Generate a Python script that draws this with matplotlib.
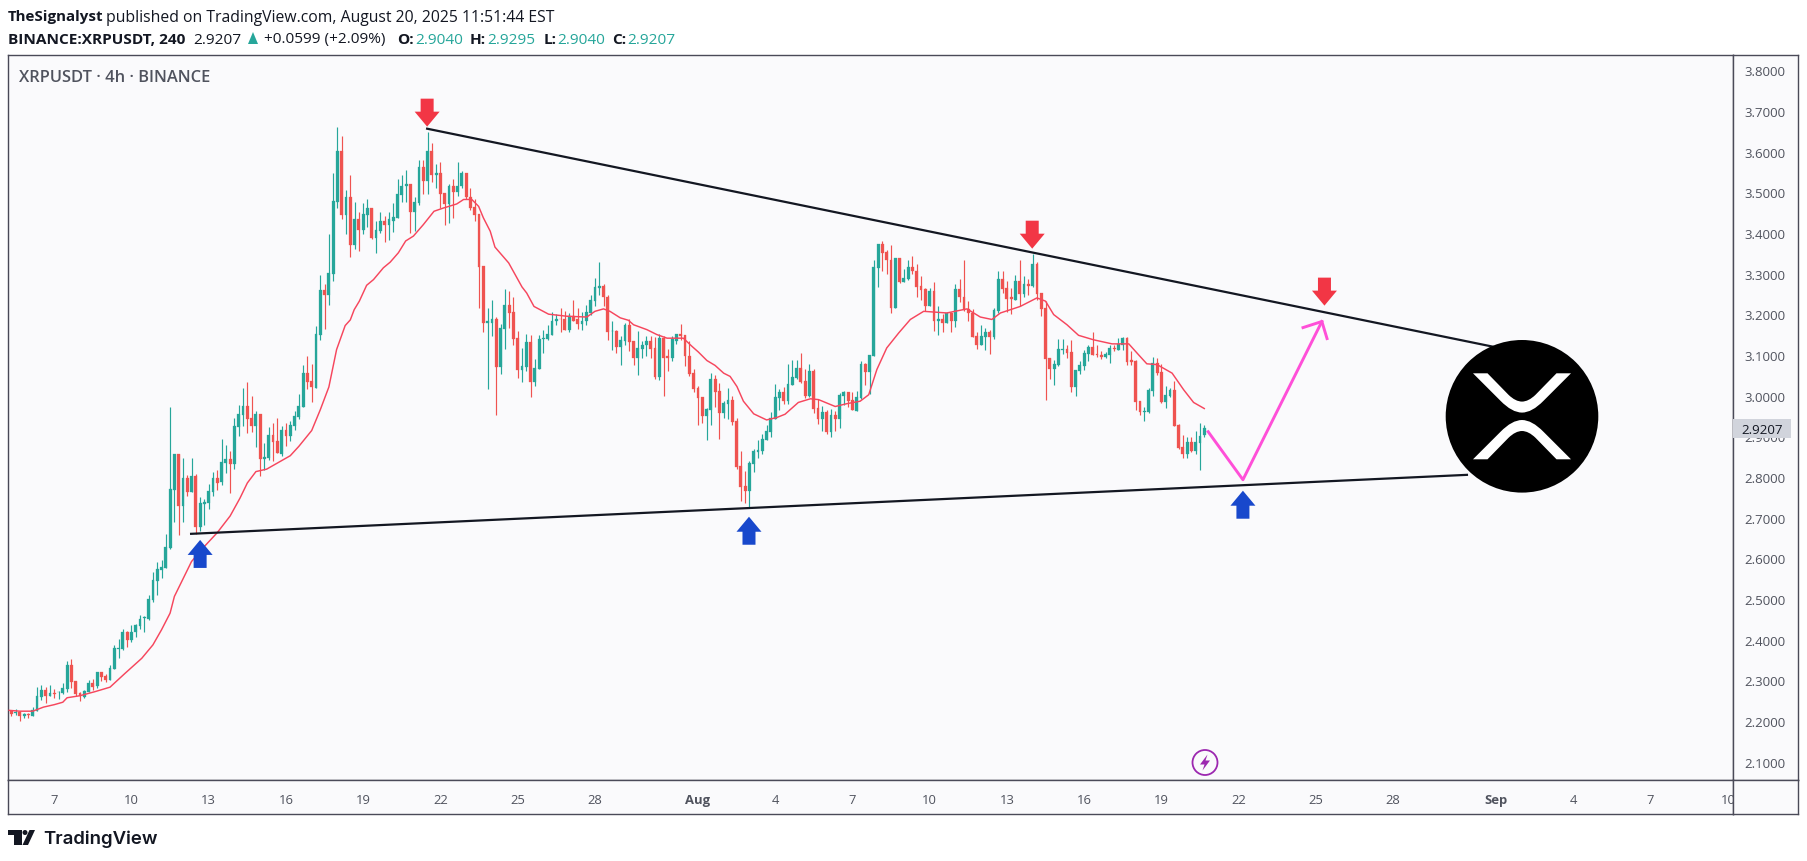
"""XRPUSDT 4h chart with a converging triangle, TradingView snapshot style."""

import numpy as np
import pandas as pd
import matplotlib

matplotlib.use("Agg")
from matplotlib import pyplot
from matplotlib.patches import Circle, PathPatch, Polygon, Rectangle
from matplotlib.path import Path

first_bar = pd.Timestamp("2025-07-05 08:00")

highs = [
    2.228, 2.230, 2.226, 2.221, 2.221, 2.235, 2.284, 2.289, 2.284, 2.290,
    2.279, 2.275, 2.295, 2.348, 2.353, 2.299, 2.272, 2.277, 2.301, 2.304,
    2.322, 2.322, 2.317, 2.338, 2.387, 2.402, 2.427, 2.423, 2.436, 2.440,
    2.461, 2.459, 2.510, 2.568, 2.591, 2.597, 2.660, 2.973, 2.858, 2.858,
    2.848, 2.806, 2.848, 2.809, 2.751, 2.746, 2.784, 2.814, 2.818, 2.895,
    2.880, 2.864, 2.946, 2.978, 3.020, 3.035, 3.000, 2.964, 2.956, 2.885,
    2.924, 2.934, 2.946, 2.927, 2.934, 2.939, 2.964, 3.005, 3.077, 3.098,
    3.078, 3.173, 3.298, 3.274, 3.397, 3.547, 3.660, 3.638, 3.507, 3.544,
    3.478, 3.451, 3.475, 3.483, 3.463, 3.429, 3.453, 3.443, 3.451, 3.475,
    3.534, 3.544, 3.556, 3.522, 3.488, 3.579, 3.579, 3.648, 3.623, 3.571,
    3.574, 3.500, 3.520, 3.534, 3.576, 3.552, 3.549, 3.510, 3.483, 3.448,
    3.320, 3.215, 3.237, 3.195, 3.178, 3.264, 3.259, 3.242, 3.160, 3.119,
    3.153, 3.151, 3.091, 3.151, 3.163, 3.175, 3.207, 3.202, 3.217, 3.210,
    3.205, 3.237, 3.215, 3.207, 3.224, 3.249, 3.291, 3.330, 3.276, 3.249,
    3.185, 3.163, 3.148, 3.180, 3.188, 3.136, 3.160, 3.136, 3.148, 3.148,
    3.146, 3.153, 3.148, 3.116, 3.148, 3.153, 3.178, 3.151, 3.136, 3.067,
    3.025, 2.998, 2.971, 3.057, 3.052, 3.033, 2.988, 3.020, 3.001, 2.946,
    2.865, 2.816, 2.841, 2.870, 2.892, 2.907, 2.929, 2.961, 3.030, 3.018,
    3.023, 3.079, 3.089, 3.089, 3.106, 3.065, 3.079, 3.065, 2.993, 2.976,
    2.966, 2.969, 2.964, 3.008, 3.013, 3.010, 3.010, 3.013, 3.087, 3.082,
    3.101, 3.333, 3.374, 3.382, 3.360, 3.372, 3.340, 3.338, 3.313, 3.333,
    3.345, 3.325, 3.296, 3.266, 3.266, 3.279, 3.220, 3.202, 3.207, 3.207,
    3.274, 3.288, 3.333, 3.234, 3.214, 3.156, 3.175, 3.168, 3.163, 3.217,
    3.306, 3.306, 3.283, 3.266, 3.298, 3.333, 3.296, 3.288, 3.350, 3.330,
    3.254, 3.234, 3.094, 3.089, 3.141, 3.141, 3.126, 3.138, 3.064, 3.087,
    3.114, 3.124, 3.156, 3.126, 3.111, 3.109, 3.124, 3.126, 3.143, 3.146,
    3.146, 3.111, 3.089, 2.988, 2.973, 3.020, 3.096, 3.094, 3.079, 3.025,
    3.020, 3.037, 2.932, 2.905, 2.900, 2.900, 2.914, 2.934, 2.9295,
]
lows = [
    2.212, 2.216, 2.202, 2.209, 2.209, 2.213, 2.226, 2.253, 2.246, 2.263,
    2.258, 2.255, 2.267, 2.271, 2.281, 2.263, 2.249, 2.258, 2.271, 2.277,
    2.283, 2.298, 2.297, 2.302, 2.329, 2.355, 2.376, 2.383, 2.394, 2.408,
    2.427, 2.419, 2.448, 2.493, 2.511, 2.553, 2.577, 2.624, 2.690, 2.659,
    2.690, 2.755, 2.764, 2.661, 2.668, 2.683, 2.723, 2.755, 2.769, 2.782,
    2.811, 2.762, 2.821, 2.902, 2.927, 2.910, 2.912, 2.875, 2.804, 2.818,
    2.843, 2.841, 2.859, 2.853, 2.878, 2.890, 2.917, 2.944, 2.973, 3.018,
    2.986, 3.019, 3.138, 3.165, 3.223, 3.283, 3.461, 3.436, 3.399, 3.342,
    3.362, 3.357, 3.397, 3.416, 3.387, 3.352, 3.401, 3.379, 3.384, 3.404,
    3.438, 3.478, 3.478, 3.401, 3.406, 3.470, 3.497, 3.497, 3.525, 3.510,
    3.461, 3.421, 3.424, 3.438, 3.492, 3.512, 3.485, 3.458, 3.429, 3.217,
    3.158, 3.018, 3.148, 2.954, 3.055, 3.116, 3.168, 3.126, 3.045, 3.035,
    3.062, 2.998, 3.025, 3.067, 3.106, 3.138, 3.151, 3.175, 3.158, 3.163,
    3.156, 3.185, 3.165, 3.163, 3.175, 3.200, 3.222, 3.249, 3.222, 3.138,
    3.114, 3.106, 3.077, 3.126, 3.111, 3.077, 3.052, 3.094, 3.099, 3.094,
    3.042, 3.040, 3.001, 3.062, 3.087, 3.128, 3.138, 3.074, 3.050, 3.010,
    2.929, 2.934, 2.892, 2.929, 2.973, 2.895, 2.946, 2.944, 2.929, 2.821,
    2.742, 2.737, 2.727, 2.814, 2.848, 2.858, 2.892, 2.900, 2.944, 2.966,
    2.979, 2.979, 3.028, 3.042, 3.033, 2.996, 2.998, 2.958, 2.932, 2.914,
    2.906, 2.900, 2.914, 2.922, 2.978, 2.974, 2.966, 2.964, 2.993, 3.028,
    3.005, 3.099, 3.269, 3.306, 3.301, 3.205, 3.217, 3.278, 3.279, 3.286,
    3.301, 3.244, 3.237, 3.210, 3.220, 3.160, 3.151, 3.156, 3.180, 3.158,
    3.170, 3.232, 3.210, 3.185, 3.146, 3.116, 3.126, 3.114, 3.104, 3.141,
    3.205, 3.254, 3.207, 3.202, 3.237, 3.222, 3.244, 3.249, 3.269, 3.237,
    3.197, 2.991, 3.042, 3.028, 3.074, 3.104, 3.094, 3.010, 3.001, 3.055,
    3.064, 3.087, 3.101, 3.096, 3.092, 3.094, 3.082, 3.111, 3.114, 3.114,
    3.077, 3.077, 2.966, 2.954, 2.939, 2.959, 3.001, 3.052, 2.983, 2.971,
    2.998, 2.927, 2.870, 2.848, 2.848, 2.863, 2.858, 2.818, 2.900,
]
opens = [
    2.226, 2.221, 2.224, 2.213, 2.218, 2.214, 2.226, 2.260, 2.277, 2.263,
    2.269, 2.271, 2.269, 2.280, 2.339, 2.299, 2.269, 2.260, 2.272, 2.294,
    2.286, 2.322, 2.312, 2.302, 2.329, 2.379, 2.378, 2.420, 2.400, 2.419,
    2.435, 2.454, 2.452, 2.499, 2.545, 2.572, 2.577, 2.626, 2.769, 2.858,
    2.730, 2.799, 2.764, 2.804, 2.678, 2.735, 2.737, 2.764, 2.799, 2.789,
    2.836, 2.846, 2.833, 2.924, 2.954, 2.976, 2.946, 2.927, 2.956, 2.846,
    2.848, 2.905, 2.890, 2.858, 2.917, 2.902, 2.927, 2.949, 2.973, 3.056,
    3.037, 3.020, 3.151, 3.261, 3.249, 3.301, 3.478, 3.603, 3.446, 3.488,
    3.370, 3.434, 3.409, 3.446, 3.463, 3.389, 3.406, 3.431, 3.421, 3.431,
    3.438, 3.495, 3.515, 3.522, 3.451, 3.475, 3.564, 3.529, 3.603, 3.542,
    3.547, 3.500, 3.473, 3.517, 3.502, 3.515, 3.549, 3.490, 3.465, 3.448,
    3.320, 3.180, 3.180, 3.190, 3.072, 3.165, 3.224, 3.207, 3.143, 3.064,
    3.072, 3.133, 3.035, 3.067, 3.141, 3.141, 3.151, 3.183, 3.190, 3.190,
    3.163, 3.197, 3.188, 3.178, 3.183, 3.205, 3.234, 3.266, 3.271, 3.244,
    3.159, 3.160, 3.121, 3.136, 3.175, 3.136, 3.094, 3.116, 3.124, 3.136,
    3.119, 3.047, 3.143, 3.097, 3.094, 3.136, 3.153, 3.151, 3.099, 3.057,
    3.020, 2.998, 2.951, 2.966, 3.042, 3.013, 2.959, 2.981, 2.991, 2.939,
    2.828, 2.779, 2.767, 2.833, 2.863, 2.865, 2.892, 2.912, 2.944, 2.996,
    3.010, 2.988, 3.028, 3.045, 3.069, 3.037, 3.001, 3.062, 2.971, 2.944,
    2.961, 2.912, 2.954, 2.944, 3.001, 3.010, 2.991, 2.964, 2.996, 3.079,
    3.060, 3.099, 3.315, 3.374, 3.355, 3.335, 3.217, 3.338, 3.281, 3.288,
    3.318, 3.308, 3.271, 3.264, 3.222, 3.259, 3.183, 3.190, 3.180, 3.205,
    3.183, 3.264, 3.244, 3.214, 3.205, 3.148, 3.126, 3.146, 3.156, 3.146,
    3.210, 3.288, 3.266, 3.242, 3.237, 3.283, 3.251, 3.276, 3.271, 3.325,
    3.254, 3.217, 3.094, 3.065, 3.077, 3.114, 3.116, 3.109, 3.023, 3.062,
    3.074, 3.104, 3.121, 3.104, 3.101, 3.096, 3.101, 3.119, 3.114, 3.124,
    3.143, 3.089, 3.087, 2.988, 2.961, 2.961, 3.013, 3.082, 3.060, 2.986,
    3.001, 3.015, 2.929, 2.875, 2.858, 2.887, 2.865, 2.885, 2.9040,
]
closes = [
    2.218, 2.224, 2.213, 2.218, 2.216, 2.228, 2.263, 2.277, 2.263, 2.269,
    2.267, 2.272, 2.281, 2.339, 2.297, 2.267, 2.263, 2.275, 2.294, 2.285,
    2.322, 2.309, 2.302, 2.331, 2.381, 2.381, 2.420, 2.400, 2.420, 2.437,
    2.452, 2.456, 2.500, 2.548, 2.575, 2.580, 2.629, 2.772, 2.858, 2.730,
    2.799, 2.764, 2.804, 2.677, 2.737, 2.740, 2.767, 2.799, 2.787, 2.838,
    2.846, 2.833, 2.927, 2.956, 2.976, 2.944, 2.927, 2.956, 2.846, 2.850,
    2.905, 2.887, 2.860, 2.917, 2.902, 2.929, 2.951, 2.976, 3.056, 3.035,
    3.023, 3.153, 3.261, 3.249, 3.303, 3.480, 3.603, 3.446, 3.488, 3.370,
    3.434, 3.409, 3.448, 3.463, 3.389, 3.409, 3.431, 3.421, 3.434, 3.441,
    3.497, 3.517, 3.522, 3.451, 3.478, 3.564, 3.529, 3.603, 3.542, 3.547,
    3.497, 3.473, 3.517, 3.502, 3.517, 3.549, 3.488, 3.463, 3.446, 3.318,
    3.180, 3.183, 3.190, 3.072, 3.168, 3.224, 3.205, 3.141, 3.064, 3.074,
    3.133, 3.035, 3.069, 3.141, 3.143, 3.153, 3.185, 3.190, 3.188, 3.163,
    3.197, 3.185, 3.178, 3.185, 3.207, 3.237, 3.269, 3.271, 3.242, 3.156,
    3.160, 3.121, 3.138, 3.175, 3.133, 3.094, 3.119, 3.126, 3.136, 3.116,
    3.047, 3.143, 3.094, 3.094, 3.141, 3.153, 3.148, 3.097, 3.055, 3.018,
    2.996, 2.951, 2.969, 3.042, 3.010, 2.959, 2.983, 2.991, 2.937, 2.826,
    2.777, 2.767, 2.836, 2.865, 2.868, 2.895, 2.914, 2.946, 2.998, 3.010,
    2.988, 3.030, 3.047, 3.069, 3.035, 3.001, 3.062, 2.969, 2.944, 2.961,
    2.912, 2.954, 2.944, 3.003, 3.010, 2.988, 2.966, 2.998, 3.079, 3.060,
    3.101, 3.318, 3.374, 3.352, 3.333, 3.217, 3.338, 3.281, 3.291, 3.318,
    3.306, 3.269, 3.261, 3.222, 3.259, 3.183, 3.190, 3.180, 3.205, 3.183,
    3.264, 3.242, 3.212, 3.205, 3.146, 3.126, 3.148, 3.156, 3.146, 3.212,
    3.288, 3.264, 3.239, 3.239, 3.283, 3.251, 3.276, 3.271, 3.325, 3.251,
    3.214, 3.092, 3.065, 3.079, 3.116, 3.116, 3.106, 3.023, 3.064, 3.077,
    3.106, 3.121, 3.101, 3.101, 3.096, 3.104, 3.119, 3.116, 3.128, 3.143,
    3.084, 3.084, 2.986, 2.961, 2.964, 3.015, 3.082, 3.057, 2.986, 3.003,
    3.015, 2.927, 2.873, 2.858, 2.887, 2.865, 2.887, 2.902, 2.9207,
]

# moving average at these bar numbers
ma_bars = [
    -0.5, 2, 5, 7.5, 10, 12, 13, 16, 19.5, 23, 26.5, 30.4, 33, 35, 37, 38, 42, 45, 48, 51,
    53.3, 55, 57, 59.5, 62, 65, 67, 70, 72, 74, 75.8, 77.8, 79, 79.9, 81.1, 82.8, 84.4, 86.7,
    88.3, 90.2, 91.9, 93.7, 96, 98.5, 100.7, 103.8, 105.4, 107.3, 108.9, 110, 111.6, 112.7,
    115.9, 119, 120.1, 121.8, 125.2, 129.4, 134.1, 136, 138, 139.5, 141.9, 143.8, 145, 148.1,
    150.4, 152.8, 156.6, 158.6, 160.1, 162.1, 164, 166, 167.5, 169.1, 170.6, 173, 176, 178.4,
    180.3, 183.4, 186.2, 188.1, 192, 194.7, 197.8, 199.8, 201.7, 204, 206.8, 209.5, 212.6,
    218, 222.7, 225.8, 228.5, 230.5, 235.1, 239, 241, 242.9, 246, 248.7, 252.2, 256.5, 260.4,
    262.7, 264.6, 267, 270.5, 273.2, 275.5, 278,
]
ma_values = [
    2.227, 2.225, 2.225, 2.235, 2.241, 2.247, 2.258, 2.263, 2.273, 2.284, 2.318, 2.355, 2.388,
    2.425, 2.466, 2.507, 2.593, 2.630, 2.664, 2.705, 2.749, 2.786, 2.814, 2.820, 2.835, 2.853,
    2.876, 2.915, 2.966, 3.022, 3.114, 3.173, 3.187, 3.212, 3.233, 3.272, 3.286, 3.315, 3.329,
    3.352, 3.381, 3.393, 3.421, 3.454, 3.462, 3.472, 3.483, 3.483, 3.466, 3.438, 3.405, 3.366,
    3.327, 3.268, 3.253, 3.220, 3.201, 3.196, 3.194, 3.208, 3.214, 3.208, 3.192, 3.186, 3.175,
    3.163, 3.151, 3.142, 3.142, 3.122, 3.108, 3.087, 3.075, 3.056, 3.048, 3.023, 2.987, 2.956,
    2.941, 2.947, 2.955, 2.984, 2.993, 2.991, 2.974, 2.981, 2.987, 3.003, 3.065, 3.118, 3.155,
    3.188, 3.208, 3.204, 3.214, 3.194, 3.188, 3.204, 3.220, 3.241, 3.233, 3.200, 3.175, 3.149,
    3.138, 3.128, 3.128, 3.101, 3.079, 3.077, 3.056, 3.015, 2.984, 2.969,
]

price_ticks = [round(3.8 - 0.1 * step, 1) for step in range(18)]
date_ticks = [
    "2025-07-07", "2025-07-10", "2025-07-13", "2025-07-16", "2025-07-19", "2025-07-22",
    "2025-07-25", "2025-07-28", "2025-08-01", "2025-08-04", "2025-08-07", "2025-08-10",
    "2025-08-13", "2025-08-16", "2025-08-19", "2025-08-22", "2025-08-25", "2025-08-28",
    "2025-09-01", "2025-09-04", "2025-09-07", "2025-09-10",
]
date_labels = [
    "7", "10", "13", "16", "19", "22", "25", "28", "Aug", "4", "7", "10",
    "13", "16", "19", "22", "25", "28", "Sep", "4", "7", "10",
]

resistance_bars = [96.9, 345.3]
resistance_prices = [3.657, 3.121]
support_bars = [41.9, 339.2]
support_prices = [2.661, 2.806]
path_bars = [278.9, 287, 305.4]
path_prices = [2.912, 2.794, 3.183]
head_bars = [301, 305.4, 306.6]
head_prices = [3.168, 3.183, 3.141]
red_arrow_bars = [96.9, 237.9, 306]
red_arrow_prices = [3.662, 3.362, 3.222]
blue_arrow_bars = [44, 171.9, 287]
blue_arrow_prices = [2.646, 2.703, 2.767]
last_price = 2.9207

UP = "#26a69a"
DOWN = "#ef5350"
PANEL = "#fafafc"
BORDER = "#4a4a58"
TICK = "#50535e"
DARK = "#131722"
FONT = "Open Sans"

WIDTH, HEIGHT = 1807, 862
LEFT, RIGHT, TOP, AXIS_TOP, BOTTOM, OUTER = 8, 1733, 55.5, 781, 815, 1798


def box(left, top, right, bottom):
    return [left / WIDTH, 1 - bottom / HEIGHT, (right - left) / WIDTH, (bottom - top) / HEIGHT]


def bar_of(date):
    return (pd.Timestamp(date) - first_bar) / pd.Timedelta(hours=4)


figure = pyplot.figure(figsize=(WIDTH / 100, HEIGHT / 100), dpi=100, facecolor="white")
axis = figure.add_axes(box(LEFT, TOP, RIGHT, AXIS_TOP), facecolor=PANEL)
price_axis = figure.add_axes(box(RIGHT, TOP, OUTER, AXIS_TOP), facecolor=PANEL)
time_axis = figure.add_axes(box(LEFT, AXIS_TOP, RIGHT, BOTTOM), facecolor=PANEL)
corner = figure.add_axes(box(RIGHT, AXIS_TOP, OUTER, BOTTOM), facecolor=PANEL)
page = figure.add_axes([0, 0, 1, 1], facecolor="none")
page.set_xlim(0, WIDTH)
page.set_ylim(HEIGHT, 0)
page.axis("off")

axis.set_xlim(-0.77, 401.2)
axis.set_ylim(2.0558, 3.8394)
price_axis.set_xlim(RIGHT, OUTER)
price_axis.set_ylim(axis.get_ylim())
time_axis.set_xlim(axis.get_xlim())
time_axis.set_ylim(0, 1)
for item in (axis, price_axis, time_axis, corner):
    item.set_xticks([])
    item.set_yticks([])
    for spine in item.spines.values():
        spine.set_color(BORDER)
        spine.set_linewidth(1.0)

# candles
bars = np.arange(len(closes))
opens_array = np.array(opens)
closes_array = np.array(closes)
colors = [UP if closes[index] >= opens[index] else DOWN for index in bars]
axis.vlines(bars, lows, highs, colors=colors, linewidth=0.85, zorder=2)
axis.bar(
    bars,
    closes_array - opens_array,
    bottom=opens_array,
    width=0.66,
    color=colors,
    edgecolor=colors,
    linewidth=0.2,
    zorder=3,
)
axis.plot(ma_bars, ma_values, color="#f6465d", linewidth=1.05, zorder=4)

# drawings
axis.plot(resistance_bars, resistance_prices, color=DARK, linewidth=1.6, zorder=5)
axis.plot(support_bars, support_prices, color=DARK, linewidth=1.6, zorder=5)
axis.plot(path_bars, path_prices, color="#ff4fd8", linewidth=2.1, zorder=5)
axis.plot(head_bars, head_prices, color="#ff4fd8", linewidth=2.1, zorder=5)


def to_page(bar, price):
    display = axis.transData.transform((bar, price))
    return page.transData.inverted().transform(display)


def draw_arrow(bar, price, direction, color):
    tip_x, tip_y = to_page(bar, price)
    outline = [
        (0, 0), (12.5, 15), (6.5, 15), (6.5, 28), (-6.5, 28), (-6.5, 15), (-12.5, 15),
    ]
    points = [(tip_x + dx, tip_y + direction * dy) for dx, dy in outline]
    page.add_patch(Polygon(points, closed=True, facecolor=color, edgecolor="none", zorder=6))


for bar, price in zip(red_arrow_bars, red_arrow_prices):
    draw_arrow(bar, price, -1, "#f23645")
for bar, price in zip(blue_arrow_bars, blue_arrow_prices):
    draw_arrow(bar, price, 1, "#1848cc")

# coin logo
logo_x, logo_y, logo_radius = 1522, 417.3, 76.3
page.add_patch(Circle((logo_x, logo_y), logo_radius, facecolor="black", edgecolor="none", zorder=7))
for sign in (-1, 1):
    shape = [
        (-49, 43), (-34.5, 43), (-13.5, 21.5), (-6.5, 14.7), (0, 14.7), (6.5, 14.7), (13.5, 21.5),
        (34.5, 43), (49, 43), (21.5, 15.5), (10, 3.7), (0, 3.7), (-10, 3.7), (-21.5, 15.5),
        (-49, 43),
    ]
    codes = [
        Path.MOVETO, Path.LINETO, Path.LINETO, Path.CURVE3, Path.CURVE3, Path.CURVE3, Path.CURVE3,
        Path.LINETO, Path.LINETO, Path.LINETO, Path.CURVE3, Path.CURVE3, Path.CURVE3, Path.CURVE3,
        Path.CLOSEPOLY,
    ]
    vertices = [(logo_x + dx, logo_y - sign * dy) for dx, dy in shape]
    page.add_patch(PathPatch(Path(vertices, codes), facecolor="white", edgecolor="none", zorder=8))

# price scale
for value in price_ticks:
    price_axis.text(1765, value - 0.003, f"{value:.4f}", ha="center", va="center", fontsize=9.5,
                    color=TICK, family=FONT, zorder=2)
price_axis.add_patch(
    Rectangle((RIGHT, last_price - 0.0235), 58, 0.047, facecolor="#d1d4dc", edgecolor="none", zorder=3)
)
price_axis.text(1762, last_price - 0.003, f"{last_price:.4f}", ha="center", va="center", fontsize=9.6,
                color=DARK, family=FONT, zorder=4)

# time scale
for date, label in zip(date_ticks, date_labels):
    bold = not label.isdigit()
    time_axis.text(bar_of(date), 0.44, label, ha="center", va="center", fontsize=9.4, color=TICK,
                   family=FONT, fontweight="bold" if bold else "normal", clip_on=True)

# lightning badge
page.add_patch(Circle((1205, 763.5), 12.5, facecolor="none", edgecolor="#9c27b0", linewidth=1.3, zorder=6))
bolt = [(1207.5, 755.5), (1200, 765.5), (1204.5, 765.5), (1202.5, 771.5), (1210, 761.5), (1205.5, 761.5)]
page.add_patch(Polygon(bolt, closed=True, facecolor="#9c27b0", edgecolor="none", zorder=6))

# header
page.text(19, 78, "XRPUSDT · 4h · BINANCE", fontsize=11.9, fontweight="semibold", color=TICK,
          family=FONT, va="center")
page.text(8, 17.5, "TheSignalyst", fontsize=10.9, fontweight="bold", color=DARK, family=FONT, va="center")
page.text(106, 17.5, "published on TradingView.com, August 20, 2025 11:51:44 EST", fontsize=11.3,
          color=DARK, family=FONT, va="center")
page.text(8, 40, "BINANCE:XRPUSDT, 240", fontsize=11.1, fontweight="bold", color=DARK, family=FONT, va="center")
page.text(193, 40, "2.9207", fontsize=11.1, color=DARK, family=FONT, va="center")
page.add_patch(Polygon([(248, 45), (258, 45), (253, 33)], closed=True, facecolor=UP, edgecolor="none"))
page.text(264, 40, "+0.0599 (+2.09%)", fontsize=11.1, color=DARK, family=FONT, va="center")
legend_labels = ["O:", "H:", "L:", "C:"]
legend_values = ["2.9040", "2.9295", "2.9040", "2.9207"]
legend_label_x = [397, 470, 544, 612]
legend_value_x = [415, 487.5, 557, 627]
for label, value, label_x, value_x in zip(legend_labels, legend_values, legend_label_x, legend_value_x):
    page.text(label_x, 40, label, fontsize=11.1, fontweight="bold", color=DARK, family=FONT, va="center")
    page.text(value_x, 40, value, fontsize=11.1, color=UP, family=FONT, va="center")

# TradingView mark
page.add_patch(Polygon([(8, 831), (22, 831), (22, 846), (14, 846), (14, 836), (8, 836)], closed=True,
                       facecolor=DARK, edgecolor="none"))
page.add_patch(Circle((25, 833.5), 2.5, facecolor=DARK, edgecolor="none"))
page.add_patch(Polygon([(29.5, 831), (35, 831), (28, 846), (22.5, 846)], closed=True, facecolor=DARK,
                       edgecolor="none"))
page.text(43, 839, "TradingView", fontsize=13.4, fontweight="semibold", color=DARK, family="Inter", va="center")

figure.savefig("out.png", dpi=100)
pyplot.close(figure)
